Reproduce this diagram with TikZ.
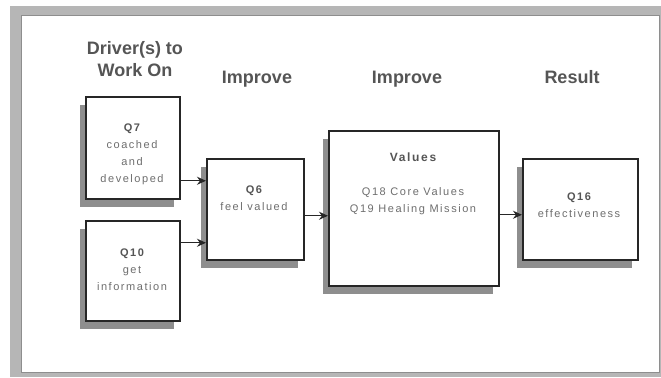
\documentclass[tikz,border=0pt]{standalone}
\usepackage{fontspec}
\setmainfont{Liberation Sans}
\newfontfamily\boxfont[LetterSpace=14]{Liberation Sans}
\usetikzlibrary{arrows.meta, shadows}
\definecolor{framegray}{HTML}{B6B6B6}
\definecolor{edgegray}{HTML}{8E8E8E}
\definecolor{shadegray}{HTML}{8E8E8E}
\definecolor{headgray}{HTML}{555555}
\definecolor{bodygray}{HTML}{6E6E6E}

\begin{document}
\begin{tikzpicture}[x=1bp, y=-1bp,
  box/.style={rectangle, draw=black!85, line width=1.5bp, fill=white, anchor=north west, inner sep=0pt,
    drop shadow={shadow xshift=-6bp, shadow yshift=-8bp, fill=shadegray, opacity=1}},
  head/.style={font=\bfseries\fontsize{18bp}{22bp}\selectfont, text=headgray, align=center, inner sep=0pt},
  txt/.style={font=\boxfont\fontsize{11bp}{17bp}\selectfont, text=bodygray, align=center, inner sep=0pt},
  arr/.style={-{Stealth[length=9bp, width=8bp]}, line width=1.4bp, black!85}]
  \useasboundingbox (0,0) rectangle (661,377);
  \fill[framegray] (10,6) rectangle (661,377);
  \draw[fill=white, draw=edgegray, line width=0.8bp] (21,15) rectangle (659,372);

  \node[head] (drv) at (135,59) {Driver(s) to\\Work On};
  \node[head, anchor=base] (imp1) at (257,83) {Improve};
  \node[head, anchor=base] (imp2) at (407,83) {Improve};
  \node[head, anchor=base] (res) at (572,83) {Result};

  \node[box, minimum width=94bp, minimum height=102bp] (q7) at (85,96) {};
  \node[box, minimum width=94bp, minimum height=100bp] (q10) at (85,220) {};
  \node[box, minimum width=97bp, minimum height=101bp] (q6) at (206,158) {};
  \node[box, minimum width=170bp, minimum height=155bp] (vals) at (328,130) {};
  \node[box, minimum width=115bp, minimum height=101bp] (q16) at (522,158) {};

  \node[txt] (q7txt) at (132,154) {\textbf{\color{headgray}Q7}\\coached\\and\\developed};
  \node[txt] (q10txt) at (132,270) {\textbf{\color{headgray}Q10}\\get\\information};
  \node[txt] (q6txt) at (254,198) {\textbf{\color{headgray}Q6}\\feel valued};
  \node[txt] (valtxt) at (413,184) {{\fontsize{12bp}{17bp}\selectfont\textbf{\color{headgray}Values}}\\[17bp]Q18 Core Values\\Q19 Healing Mission};
  \node[txt] (q16txt) at (579,205) {\textbf{\color{headgray}Q16}\\effectiveness};

  \coordinate (a7) at ([yshift=-33bp]q7.east);
  \coordinate (a10) at ([yshift=28bp]q10.east);
  \coordinate (a6) at ([yshift=-6.5bp]q6.east);
  \coordinate (av) at ([yshift=-6.5bp]vals.east);
  \draw[arr] (a7) -- (a7 -| q6.west);
  \draw[arr] (a10) -- (a10 -| q6.west);
  \draw[arr] (a6) -- (a6 -| vals.west);
  \draw[arr] (av) -- (av -| q16.west);
\end{tikzpicture}
\end{document}
